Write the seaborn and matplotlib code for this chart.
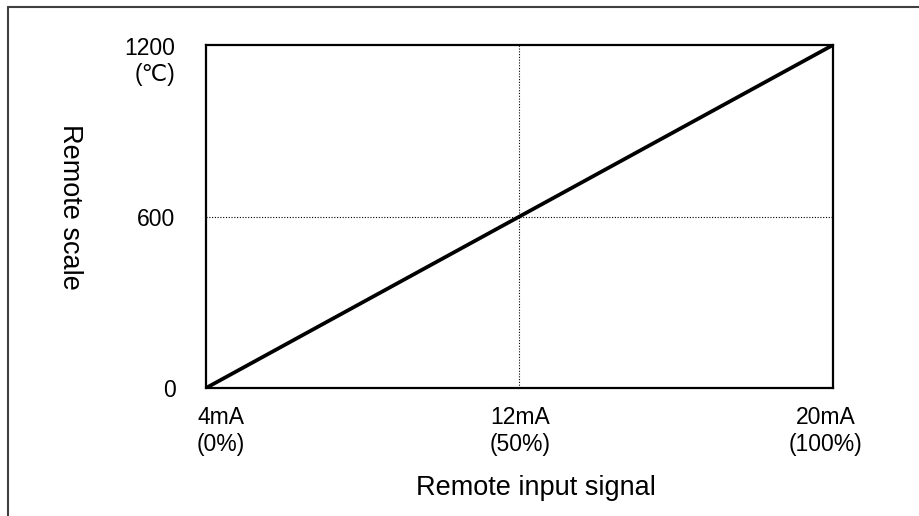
import numpy as np
import pandas as pd
import matplotlib
matplotlib.use("Agg")
import matplotlib.pyplot as plt
from matplotlib.lines import Line2D
from matplotlib.transforms import ScaledTranslation
import seaborn as sns

# data
signal_ma = [4, 20]
scale_c = [0, 1200]
x_ticks = [4, 12, 20]
x_labels = ["4mA\n(0%)", "12mA\n(50%)", "20mA\n(100%)"]
y_ticks = [0, 600, 1200]
y_labels = ["0", "600", "1200\n(℃)"]

sns.set_style("white")
plt.rcParams['font.family'] = ['Liberation Sans', 'DejaVu Sans']
for k in ['text.color', 'xtick.color', 'ytick.color', 'axes.labelcolor']:
    plt.rcParams[k] = 'black'

df = pd.DataFrame({'signal': signal_ma, 'scale': scale_c})

fig = plt.figure(figsize=(9.2, 5.16), dpi=100)
ax = fig.add_axes([206/920, 1-388/516, 627/920, 343/516])

# dotted guides at midpoint
ax.axvline(x_ticks[1], color='black', lw=0.8, ls=(0, (1, 1.5)), zorder=1)
ax.axhline(y_ticks[1], color='black', lw=0.8, ls=(0, (1, 1.5)), zorder=1)

sns.lineplot(data=df, x='signal', y='scale', ax=ax, color='black', lw=2.7, zorder=3)

ax.set_xlim(signal_ma[0], signal_ma[-1])
ax.set_ylim(scale_c[0], scale_c[-1])
ax.set_xticks(x_ticks)
ax.set_xticklabels(x_labels, fontsize=16.5)
ax.set_yticks(y_ticks)
ax.set_yticklabels(y_labels, fontsize=16.5)
ax.tick_params(axis='x', length=0, pad=13)
ax.tick_params(axis='y', length=0, pad=22)

# small nudges of individual labels
top_lab = ax.get_yticklabels()[2]
top_lab.set_va('top')
top_lab.set_transform(top_lab.get_transform() + ScaledTranslation(0, 6/72, fig.dpi_scale_trans))
for lab, dx in zip(ax.get_xticklabels(), [15, 1, -7]):
    lab.set_transform(lab.get_transform() + ScaledTranslation(dx/100, 0, fig.dpi_scale_trans))

ax.set_xlabel('')
ax.set_ylabel('')
for s in ax.spines.values():
    s.set_color('black')
    s.set_linewidth(1.6)

fig.text(536/920, 1-488/516, 'Remote input signal', fontsize=19.5, ha='center', va='center')
fig.text(70/920, 1-207/516, 'Remote scale', fontsize=19.5, ha='center', va='center', rotation=270)

# outer frame (top and left only)
fig.add_artist(Line2D([8/920, 1], [1-7/516, 1-7/516], color='#404040', lw=1.5))
fig.add_artist(Line2D([8/920, 8/920], [0, 1-7/516], color='#404040', lw=1.5))

fig.savefig('out.png', dpi=100)
